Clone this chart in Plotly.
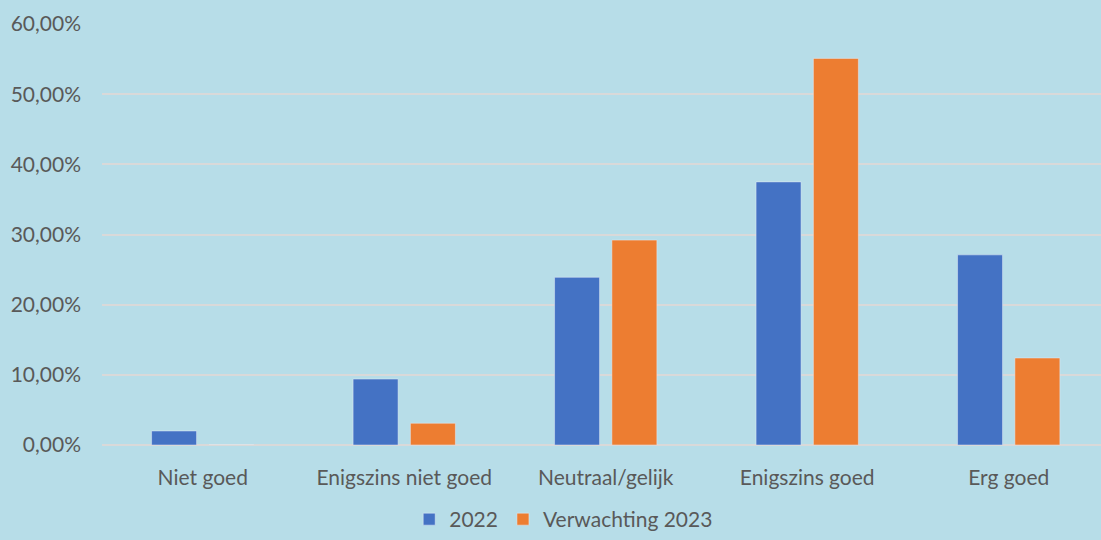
import plotly.graph_objects as go

# categories and the two series (fractions)
categories = ["Niet goed", "Enigszins niet goed", "Neutraal/gelijk", "Enigszins goed", "Erg goed"]
values_2022 = [0.020, 0.094, 0.239, 0.375, 0.271]
values_2023 = [0.0, 0.031, 0.292, 0.551, 0.124]
y_ticks = [0, 0.1, 0.2, 0.3, 0.4, 0.5, 0.6]

bg = "#B7DDE8"
txt = "#595959"

fig = go.Figure()
fig.add_trace(go.Bar(x=categories, y=values_2022, name="2022", marker=dict(color="#4472C4")))
fig.add_trace(go.Bar(x=categories, y=values_2023, name="Verwachting 2023", marker=dict(color="#ED7D31")))

fig.update_layout(
    width=1101, height=540,
    paper_bgcolor=bg, plot_bgcolor=bg,
    separators=", ",
    font=dict(family="Lato, Open Sans, sans-serif", size=21, color=txt),
    barmode="group",
    bargap=0.431,
    bargroupgap=0.215,
    margin=dict(l=102, r=0, t=24, b=95),
    legend=dict(
        orientation="h",
        xref="container", yref="container",
        x=0.512, xanchor="center",
        y=0.0, yanchor="bottom",
        font=dict(size=21, color=txt),
        itemwidth=30,
        bgcolor="rgba(0,0,0,0)",
    ),
)

fig.update_xaxes(
    range=[-0.5, 4.458],
    showgrid=False, showline=False, zeroline=False,
    ticks="", ticklabelstandoff=18,
)
fig.update_yaxes(
    range=[0, 0.6],
    tickvals=y_ticks, tickformat=".2%",
    showgrid=True, gridcolor="#D9D9D9", gridwidth=1.5,
    zeroline=True, zerolinecolor="#D9D9D9", zerolinewidth=1.5,
    showline=False, ticks="", ticklabelstandoff=20,
)

# drop the page's default body margin so the chart fills the window
fig.write_html("out.html", config={"displayModeBar": False},
               post_script="document.body.style.margin='0';")
